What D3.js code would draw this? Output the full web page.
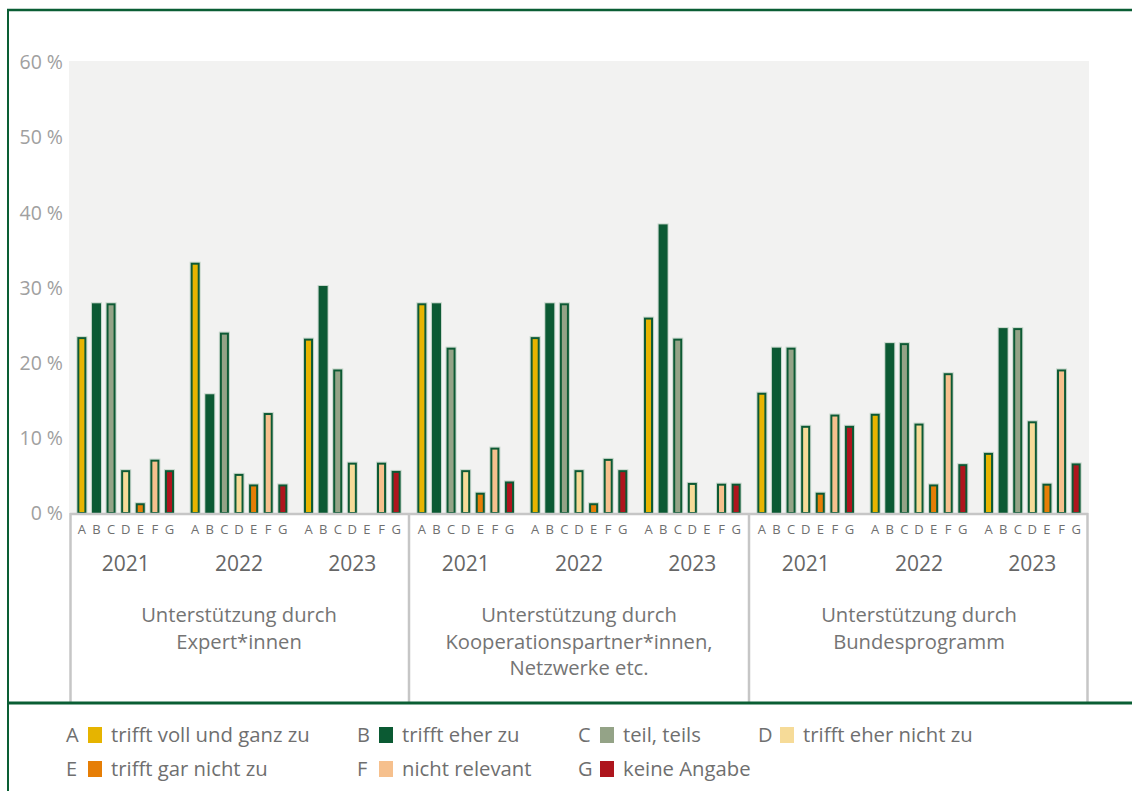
<!DOCTYPE html>
<html>
<head>
<meta charset="utf-8">
<script src="https://cdn.jsdelivr.net/npm/d3@7"></script>
<style>
  html, body { margin: 0; padding: 0; background: #ffffff; }
  svg { display: block; font-family: "Open Sans", "Noto Sans", sans-serif; }
</style>
</head>
<body>
<svg id="chart" width="1132" height="791"></svg>
<script>
// ---------- data ----------
const groupLabels = [
  ["Unterstützung durch", "Expert*innen"],
  ["Unterstützung durch", "Kooperationspartner*innen,", "Netzwerke etc."],
  ["Unterstützung durch", "Bundesprogramm"]
];
const years = ["2021", "2022", "2023"];
const answers = ["A", "B", "C", "D", "E", "F", "G"];
const answerLabels = ["trifft voll und ganz zu", "trifft eher zu", "teil, teils", "trifft eher nicht zu",
                      "trifft gar nicht zu", "nicht relevant", "keine Angabe"];
const answerColors = ["#e6b400", "#0b5a33", "#94a387", "#f6db98", "#e67e06", "#f6c08d", "#ae151d"];
const yTicks = [0, 10, 20, 30, 40, 50, 60];

// values per answer, in order: Expert*innen 2021/22/23, Kooperation 2021/22/23, Bundesprogramm 2021/22/23
const valuesA = [23.4, 33.3, 23.2, 27.9, 23.4, 26.0, 16.0, 13.2, 8.0];
const valuesB = [27.9, 15.8, 30.2, 27.9, 27.9, 38.4, 22.0, 22.6, 24.6];
const valuesC = [27.9, 24.0, 19.1, 22.0, 27.9, 23.2, 22.0, 22.6, 24.6];
const valuesD = [5.7, 5.2, 6.7, 5.7, 5.7, 4.0, 11.6, 11.9, 12.2];
const valuesE = [1.3, 3.8, 0, 2.7, 1.3, 0, 2.7, 3.8, 3.9];
const valuesF = [7.1, 13.3, 6.7, 8.7, 7.2, 3.9, 13.1, 18.6, 19.1];
const valuesG = [5.7, 3.8, 5.6, 4.2, 5.7, 3.9, 11.6, 6.5, 6.6];
const seriesValues = [valuesA, valuesB, valuesC, valuesD, valuesE, valuesF, valuesG];

// ---------- layout ----------
const svg = d3.select("#chart");
const plot = { left: 69, right: 1089, top: 62, bottom: 513 };
const frameColor = "#0a5e34";
const textGrey = "#6f6f6f";

// slot keys (group-year)
const slots = [];
groupLabels.forEach((g, gi) => years.forEach((yr, yi) => slots.push({ gi, yi, key: gi + "-" + yr, year: yr })));

const x0 = d3.scaleBand().domain(slots.map(s => s.key)).range([plot.left, plot.right]).padding(0);
const x1 = d3.scaleBand().domain(answers).range([0, x0.bandwidth()]).paddingInner(0.38).paddingOuter(0.57);
const y = d3.scaleLinear().domain([0, 60]).range([plot.bottom, plot.top]);

// plot background
svg.append("rect")
  .attr("x", plot.left).attr("y", 61)
  .attr("width", plot.right - plot.left).attr("height", plot.bottom - 61)
  .attr("fill", "#f2f2f1");

// y axis labels
const yAxis = d3.axisLeft(y).tickValues(yTicks).tickSize(0).tickPadding(6).tickFormat(d => d + " %");
const yg = svg.append("g").attr("transform", `translate(${plot.left},0)`).call(yAxis);
yg.select(".domain").remove();
yg.selectAll("text").attr("font-size", 19.5).attr("fill", "#a0a0a0")
  .attr("font-family", "'Open Sans', sans-serif").attr("dy", "0.35em");

// bars
const barData = [];
slots.forEach((s, si) => {
  answers.forEach((a, ai) => {
    const v = seriesValues[ai][si];
    if (v > 0) barData.push({ slot: s.key, a, ai, v });
  });
});
const bw = x1.bandwidth();
const bars = svg.append("g");
// halo
bars.selectAll("rect.halo").data(barData).join("rect")
  .attr("class", "halo")
  .attr("x", d => x0(d.slot) + x1(d.a) - 0.5)
  .attr("y", d => y(d.v) - 0.5)
  .attr("width", bw + 1)
  .attr("height", d => plot.bottom - y(d.v) + 0.5)
  .attr("fill", "none")
  .attr("stroke", "rgba(120,165,135,0.35)")
  .attr("stroke-width", 1);
bars.selectAll("rect.bar").data(barData).join("rect")
  .attr("class", "bar")
  .attr("x", d => x0(d.slot) + x1(d.a) + 1)
  .attr("y", d => y(d.v) + 1)
  .attr("width", bw - 2)
  .attr("height", d => Math.max(0, plot.bottom - y(d.v) - 1))
  .attr("fill", d => answerColors[d.ai])
  .attr("stroke", "#0d5a34")
  .attr("stroke-width", 2);

// category axis area
const axisG = svg.append("g");
const lineGrey = "#c6c6c6";
axisG.append("line")
  .attr("x1", plot.left + 1).attr("x2", plot.right - 1)
  .attr("y1", plot.bottom + 1).attr("y2", plot.bottom + 1)
  .attr("stroke", lineGrey).attr("stroke-width", 2.5);
const groupEdges = [0, 3, 6, 9].map(i => i < 9 ? x0(slots[i].key) : plot.right);
groupEdges.forEach((gx, i) => {
  const xx = i === 0 ? gx + 1.5 : (i === 3 ? gx - 1.5 : gx);
  axisG.append("line")
    .attr("x1", xx).attr("x2", xx)
    .attr("y1", plot.bottom).attr("y2", 702)
    .attr("stroke", lineGrey).attr("stroke-width", 2.5);
});

// letters
slots.forEach(s => {
  axisG.append("g").selectAll("text").data(answers).join("text")
    .attr("x", a => x0(s.key) + x1(a) + bw / 2)
    .attr("y", 529)
    .attr("dy", "0.35em")
    .attr("text-anchor", "middle")
    .attr("font-size", 13)
    .attr("fill", textGrey)
    .text(a => a);
  axisG.append("text")
    .attr("x", x0(s.key) + x0.bandwidth() / 2)
    .attr("y", 564)
    .attr("dy", "0.35em")
    .attr("text-anchor", "middle")
    .attr("font-size", 21)
    .attr("fill", "#666666")
    .text(s.year);
});

// group labels
groupLabels.forEach((lines, gi) => {
  const cx = (groupEdges[gi] + groupEdges[gi + 1]) / 2;
  axisG.append("g").selectAll("text").data(lines).join("text")
    .attr("x", cx)
    .attr("y", (d, i) => 615 + i * 26.5)
    .attr("dy", "0.35em")
    .attr("text-anchor", "middle")
    .attr("font-size", 20.2)
    .attr("fill", "#747474")
    .text(d => d);
});

// frame
svg.append("line").attr("x1", 7).attr("x2", 1132).attr("y1", 10).attr("y2", 10)
  .attr("stroke", frameColor).attr("stroke-width", 2.5);
svg.append("line").attr("x1", 8).attr("x2", 8).attr("y1", 9).attr("y2", 791)
  .attr("stroke", frameColor).attr("stroke-width", 2);
svg.append("line").attr("x1", 7).attr("x2", 1132).attr("y1", 703).attr("y2", 703)
  .attr("stroke", frameColor).attr("stroke-width", 3);

// legend
const legendCols = [66, 357, 578, 758];
const legendRows = [735, 769];
const legend = svg.append("g");
answers.forEach((a, i) => {
  const col = i < 4 ? i : i - 4;
  const row = i < 4 ? 0 : 1;
  const lx = legendCols[col], ly = legendRows[row];
  const item = legend.append("g").attr("transform", `translate(${lx},${ly})`);
  item.append("text").attr("x", 0).attr("y", 0).attr("dy", "0.35em")
    .attr("font-size", 20).attr("fill", textGrey).text(a);
  item.append("rect").attr("x", 22).attr("y", -8).attr("width", 14).attr("height", 16)
    .attr("fill", answerColors[i]);
  item.append("text").attr("x", 45).attr("y", 0).attr("dy", "0.35em")
    .attr("font-size", 20.3).attr("fill", textGrey).text(answerLabels[i]);
});
</script>
</body>
</html>
